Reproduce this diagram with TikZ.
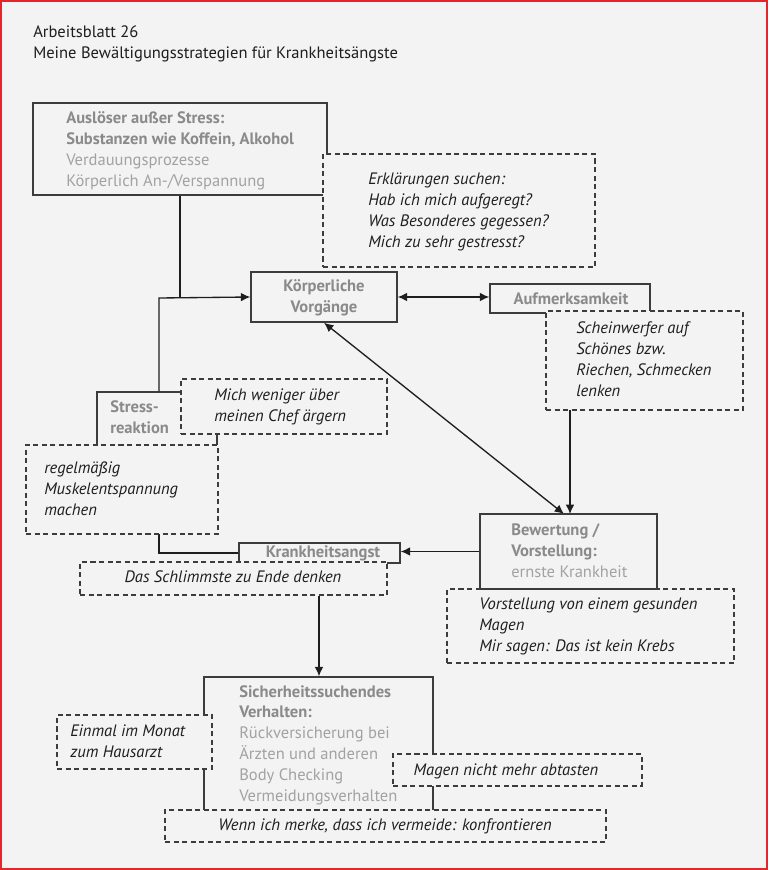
\documentclass[tikz,border=0pt]{standalone}
\usepackage{fontspec}
\setmainfont{PT Sans}
\usetikzlibrary{arrows.meta,fit}
\definecolor{bg}{HTML}{F3F3F3}
\definecolor{frame}{HTML}{E3262B}
\definecolor{boxline}{HTML}{3C3C3C}
\definecolor{gbold}{HTML}{8A8A8A}
\definecolor{glight}{HTML}{A2A2A2}
\definecolor{ink}{HTML}{1E1E1E}
\begin{document}
\begin{tikzpicture}[x=0.75pt,y=-0.75pt,
  solidbox/.style={draw=boxline, line width=1.1pt, inner sep=0pt},
  dashbox/.style={draw=boxline, line width=0.9pt, dash pattern=on 3.8pt off 2.6pt, fill=bg, inner sep=0pt},
  conn/.style={draw=ink, line width=1pt},
  tipa/.tip={Latex[length=7pt,width=6.5pt]},
  arr/.style={conn, -tipa},
  darr/.style={conn, tipa-tipa},
  lbl/.style={inner sep=0pt, font=\fontsize{12.4}{15.6}\selectfont, align=left, text=ink},
  boxtxt/.style={lbl, text=glight},
  strong/.style={lbl, text=gbold, font=\fontsize{12.4}{15.6}\selectfont\bfseries},
  note/.style={lbl, font=\fontsize{12.4}{15.6}\selectfont\itshape}
]
\useasboundingbox (0,0) rectangle (768,870);
\fill[bg] (0,0) rectangle (768,870);
\draw[frame, line width=1.5pt] (1,1) rectangle (767,869);

% title (anchor = baseline of last line)
\node[lbl, anchor=base west, font=\fontsize{12.4}{15.75}\selectfont] (title) at (33,59)
  {Arbeitsblatt 26\\Meine Bewältigungsstrategien für Krankheitsängste};

% solid boxes
\node[solidbox, fit={(33,103)(327,195)}] (ausl) {};
\node[solidbox, fit={(251,272)(397,322)}] (koerp) {};
\node[solidbox, fit={(490,284)(650,313)}] (aufm) {};
\node[solidbox, fit={(97,392)(217,470)}] (stress) {};
\node[solidbox, fit={(239,543)(400,563)}] (krank) {};
\node[solidbox, fit={(204,677)(433,826)}] (sich) {};

% junctions
\coordinate (j1) at (180,298);
\coordinate (j2) at (159,298);
\coordinate (c570) at (570,0);
\coordinate (c564) at (564,0);
\coordinate (c319) at (319,0);

% connectors
\draw[conn] (ausl.south -| j1) -- (j1);
\draw[arr] (stress.north -| j2) -- (j2) -- (koerp.west);
\draw[darr] (koerp.east) -- (koerp.east -| aufm.west);
\draw[arr] (aufm.south -| c570) -- (c570 |- 514,514);
\draw[darr] (koerp.south) -- (c564 |- 514,514);
\draw[conn] (stress.south -| j2) -- (j2 |- krank.west) -- (krank.west);

% Bewertung box
\node[solidbox, fit={(480,514)(657,589)}] (bew) {};
\draw[arr] (bew.west) -- (bew.west -| krank.east);

% dashed boxes
\node[dashbox, fit={(323,154)(595,267)}] (erkl) {};
\node[dashbox, fit={(546,311)(743,410)}] (schein) {};
\node[dashbox, fit={(181,379)(387,434)}] (mich) {};
\node[dashbox, fit={(26,445)(218,534)}] (regel) {};
\node[dashbox, fit={(80,562)(387,595)}] (schlimm) {};
\node[dashbox, fit={(447,589)(734,663)}] (vorst) {};
\node[dashbox, fit={(57,715)(212,769)}] (einmal) {};
\node[dashbox, fit={(393,754)(642,786)}] (magen) {};
\node[dashbox, fit={(165,810)(606,842)}] (wenn) {};
\draw[boxline, line width=1.1pt] (bew.south west) -- (bew.south east);

\draw[arr] (schlimm.south -| c319) -- (sich.north -| c319);

% texts in solid boxes (anchor = baseline of last line)
\node[boxtxt, anchor=base west] (tausl) at (66,186)
  {\textbf{\textcolor{gbold}{Auslöser außer Stress:}}\\
   \textbf{\textcolor{gbold}{Substanzen wie Koffein, Alkohol}}\\
   Verdauungsprozesse\\Körperlich An-/Verspannung};
\node[strong, anchor=base, align=center] (tkoerp) at (324,312) {Körperliche\\Vorgänge};
\node[strong, anchor=base] (taufm) at (571,304) {Aufmerksamkeit};
\node[strong, anchor=base west] (tstress) at (110,433) {Stress-\\reaktion};
\node[strong, anchor=base] (tkrank) at (323,557) {Krankheitsangst};
\node[boxtxt, anchor=base west] (tbew) at (511,577)
  {\textbf{\textcolor{gbold}{Bewertung /}}\\
   \textbf{\textcolor{gbold}{Vorstellung:}}\\
   ernste Krankheit};
\node[boxtxt, anchor=base west] (tsich) at (239,801)
  {\textbf{\textcolor{gbold}{Sicherheitssuchendes}}\\
   \textbf{\textcolor{gbold}{Verhalten:}}\\
   Rückversicherung bei\\Ärzten und anderen\\Body Checking\\Vermeidungsverhalten};

% texts in dashed boxes
\node[note, anchor=base west] (terkl) at (368,247)
  {Erklärungen suchen:\\Hab ich mich aufgeregt?\\Was Besonderes gegessen?\\Mich zu sehr gestresst?};
\node[note, anchor=base west] (tschein) at (576,396)
  {Scheinwerfer auf\\Schönes bzw.\\Riechen, Schmecken\\lenken};
\node[note, anchor=base west] (tmich) at (214,421) {Mich weniger über\\meinen Chef ärgern};
\node[note, anchor=base west] (tregel) at (44,515) {regelmäßig\\Muskelentspannung\\machen};
\node[note, anchor=base] (tschlimm) at (233,582) {Das Schlimmste zu Ende denken};
\node[note, anchor=base west] (tvorst) at (479,651)
  {Vorstellung von einem gesunden\\Magen\\Mir sagen: Das ist kein Krebs};
\node[note, anchor=base west] (teinmal) at (70,757) {Einmal im Monat\\zum Hausarzt};
\node[note, anchor=base] (tmagen) at (506,775) {Magen nicht mehr abtasten};
\node[note, anchor=base] (twenn) at (385,830) {Wenn ich merke, dass ich vermeide: konfrontieren};
\end{tikzpicture}
\end{document}
